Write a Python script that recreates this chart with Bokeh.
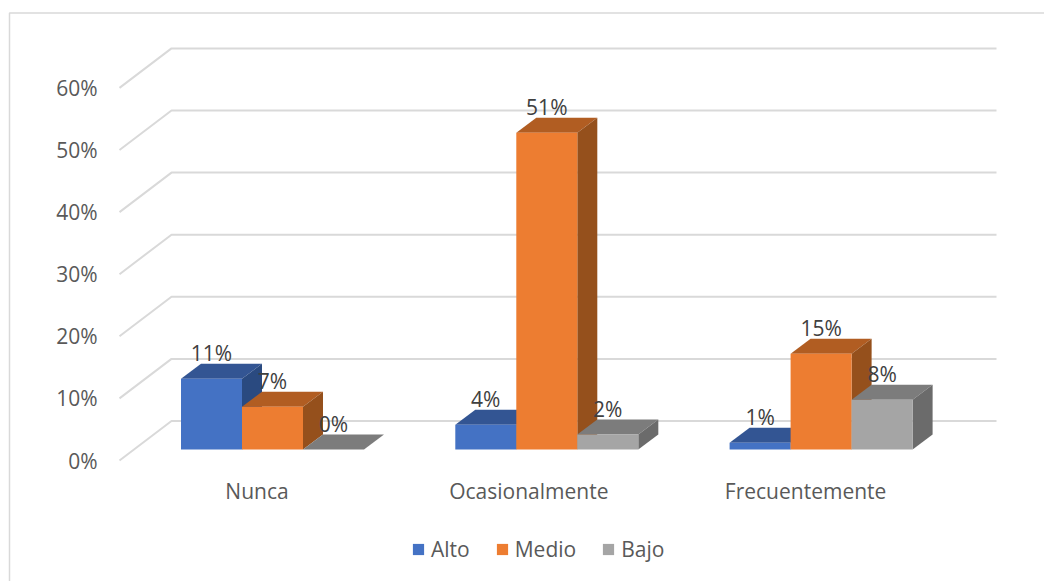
from bokeh.plotting import figure
from bokeh.models import (BoxAnnotation, FixedTicker, Legend, LegendItem,
                          Range1d)
from bokeh.core.properties import value
from bokeh.embed import file_html
from bokeh.resources import INLINE

categories = ["Nunca", "Ocasionalmente", "Frecuentemente"]
category_ticks = [0, 0.991, 2]
series_names = ["Alto", "Medio", "Bajo"]
alto = [11.4, 4.0, 1.1]
medio = [6.9, 51.0, 15.4]
bajo = [0.0, 2.4, 8.0]
y_ticks = [0, 10, 20, 30, 40, 50, 60]

front_colors = ["#4472C4", "#ED7D31", "#A5A5A5"]
top_colors = ["#335593", "#B15D22", "#7C7C7C"]
side_colors = ["#2A4A80", "#95501C", "#6B6B6B"]
FONT = "Open Sans"
TEXT = "#595959"
FS = "21px"

# scales: pixels per data unit
PX_X, PX_Y = 274.3, 6.21
AXIS_FRONT_X, AXIS_ZERO_Y = 119, 460
LABEL0_X = 256.5

W, H = 1044, 581
x0 = (0 - LABEL0_X) / PX_X
x1 = (W - LABEL0_X) / PX_X
y0 = (AXIS_ZERO_Y - H) / PX_Y
y1 = AXIS_ZERO_Y / PX_Y

p = figure(width=W, height=H, output_backend="svg", toolbar_location=None,
           x_range=Range1d(x0, x1), y_range=Range1d(y0, y1),
           min_border_left=0, min_border_right=0,
           min_border_top=0, min_border_bottom=0,
           background_fill_color=None, border_fill_color="white")
p.outline_line_color = None
p.grid.visible = False

# chart border
p.add_layout(BoxAnnotation(left=9, right=W + 20, top=12.5, bottom=H + 20,
                           left_units="canvas", right_units="canvas",
                           top_units="canvas", bottom_units="canvas",
                           fill_alpha=0, line_color="#d9d9d9", line_alpha=1,
                           line_width=1.5))

# axes
yax = p.yaxis[0]
yax.fixed_location = (115 - LABEL0_X) / PX_X
yax.ticker = FixedTicker(ticks=y_ticks)
yax.major_label_overrides = {t: f"{t}%" for t in y_ticks}
yax.axis_line_color = None
yax.major_tick_line_color = None
yax.minor_tick_line_color = None
yax.major_label_text_font = FONT
yax.major_label_text_font_size = FS
yax.major_label_text_color = TEXT
yax.major_label_standoff = 12

xax = p.xaxis[0]
xax.fixed_location = 0
xax.ticker = FixedTicker(ticks=category_ticks)
xax.major_label_overrides = dict(zip(category_ticks, categories))
xax.axis_line_color = None
xax.major_tick_line_color = None
xax.minor_tick_line_color = None
xax.major_label_text_font = FONT
xax.major_label_text_font_size = FS
xax.major_label_text_color = TEXT
xax.major_label_standoff = 10

# back wall grid
WALL_DX_PX, WALL_END_PX, WALL_DY_PX = 52, 996, 39.5
wall_x = [(AXIS_FRONT_X - LABEL0_X) / PX_X,
          (AXIS_FRONT_X + WALL_DX_PX - LABEL0_X) / PX_X,
          (WALL_END_PX - LABEL0_X) / PX_X]
p.multi_line(xs=[wall_x for _ in y_ticks],
             ys=[[t, t + WALL_DY_PX / PX_Y, t + WALL_DY_PX / PX_Y] for t in y_ticks],
             line_color="#d9d9d9", line_width=2)

# bars
BAR_W = 61 / PX_X
SHIFT = 15.5 / PX_X
DX, DY = 20 / PX_X, 15 / PX_Y
BASE = 11 / PX_Y
LABEL_UP = 10.5 / PX_Y

label_x, label_y, label_text = [], [], []
items = []
for s, (name, vals) in enumerate(zip(series_names, [alto, medio, bajo])):
    lefts = [g + SHIFT + (s - 1.5) * BAR_W for g in range(len(categories))]
    tops = [BASE + v for v in vals]
    p.patches(xs=[[l, l + DX, l + BAR_W + DX, l + BAR_W] for l in lefts],
              ys=[[t, t + DY, t + DY, t] for t in tops],
              fill_color=top_colors[s], line_color=None)
    p.patches(xs=[[l + BAR_W, l + BAR_W + DX, l + BAR_W + DX, l + BAR_W] for l in lefts],
              ys=[[BASE, BASE + DY, t + DY, t] for t in tops],
              fill_color=side_colors[s], line_color=None)
    r = p.vbar(x=[l + BAR_W / 2 for l in lefts], width=BAR_W, bottom=BASE, top=tops,
               fill_color=front_colors[s], line_color=None)
    items.append(LegendItem(label=name, renderers=[r]))
    for l, t, v in zip(lefts, tops, vals):
        label_x.append(l + BAR_W / 2)
        label_y.append(t + DY + LABEL_UP)
        label_text.append(f"{round(v)}%")

p.text(x=label_x, y=label_y, text=label_text, text_align="center",
       text_baseline="middle", text_font=value(FONT), text_font_size=FS,
       text_color="#404040")

legend = Legend(items=items, orientation="horizontal", location=(411, 18),
                glyph_width=14, glyph_height=14, label_standoff=6, spacing=25,
                padding=0, margin=0, border_line_color=None,
                background_fill_alpha=0, label_text_font=FONT,
                label_text_font_size=FS, label_text_color=TEXT)
p.add_layout(legend, "center")

open("out.html", "w").write(file_html(p, INLINE))
